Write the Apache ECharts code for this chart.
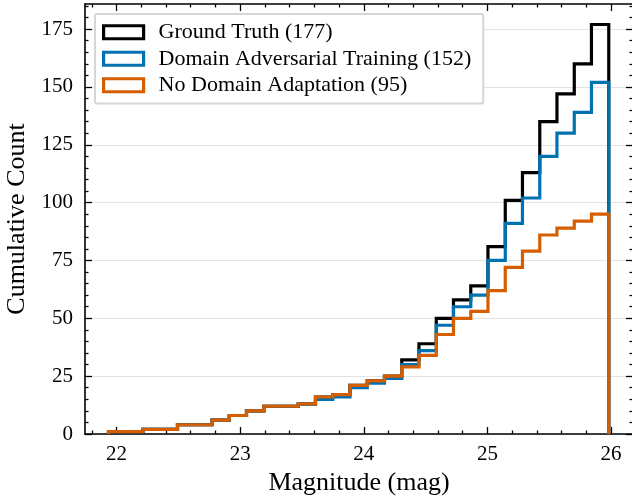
<!DOCTYPE html>
<html>
<head>
<meta charset="utf-8">
<script src="https://cdn.jsdelivr.net/npm/echarts@6/dist/echarts.min.js"></script>
<style>
  html, body { margin: 0; padding: 0; background: #ffffff; }
  #chart { width: 632px; height: 498px; }
</style>
</head>
<body>
<div id="chart"></div>
<script>
// Magnitude bin edges of the cumulative histograms (29 bins)
const binEdges = [21.935, 22.075, 22.214, 22.354, 22.493, 22.633, 22.772, 22.912, 23.051, 23.191,
                  23.330, 23.470, 23.609, 23.749, 23.888, 24.028, 24.167, 24.307, 24.446, 24.586,
                  24.725, 24.865, 25.004, 25.144, 25.283, 25.423, 25.562, 25.702, 25.841, 25.981];

// Cumulative counts per bin
const groundTruth       = [1, 1, 2, 2, 4, 4, 6, 8, 10, 12, 12, 13, 16, 17, 21, 23, 25, 32, 39, 50, 58, 64, 81, 101, 113, 135, 147, 160, 177];
const domainAdversarial = [1, 1, 2, 2, 4, 4, 6, 8, 10, 12, 12, 13, 15, 16, 20, 22, 24, 30, 36, 47, 55, 60, 75, 91, 102, 120, 130, 139, 152];
const noAdaptation      = [1, 1, 2, 2, 4, 4, 6, 8, 10, 12, 12, 13, 16, 17, 21, 23, 25, 29, 34, 43, 50, 53, 62, 72, 79, 86, 89, 92, 95];

const seriesNames = ['Ground Truth (177)', 'Domain Adversarial Training (152)', 'No Domain Adaptation (95)'];
const seriesColors = ['#000000', '#0072B2', '#D55E00'];

// Tick positions
const xMajorTicks = [22, 23, 24, 25, 26];
const xMinorTicks = [21.8, 22.2, 22.4, 22.6, 22.8, 23.2, 23.4, 23.6, 23.8, 24.2, 24.4, 24.6, 24.8,
                     25.2, 25.4, 25.6, 25.8];
const yMajorTicks = [0, 25, 50, 75, 100, 125, 150, 175];
const yMinorTicks = [5, 10, 15, 20, 30, 35, 40, 45, 55, 60, 65, 70, 80, 85, 90, 95, 105, 110, 115, 120,
                     130, 135, 140, 145, 155, 160, 165, 170, 180, 185];

const X_MIN = 21.745, X_MAX = 26.177;
const Y_MIN = 0, Y_MAX = 185.85;

const FONT = 'Liberation Serif';

// Outline of a step histogram: up from zero at the first edge, across each bin, down at the last edge
function stepOutline(counts) {
  const pts = [[binEdges[0], 0]];
  counts.forEach((c, i) => {
    pts.push([binEdges[i], c]);
    pts.push([binEdges[i + 1], c]);
  });
  pts.push([binEdges[binEdges.length - 1], 0]);
  return pts;
}

const spine = { show: true, onZero: false, lineStyle: { color: '#000', width: 1.6 } };
const noSpine = { show: false, onZero: false };

function xAxis(position, ticks, len, withLine, withLabel) {
  return {
    type: 'value', position: position, min: X_MIN, max: X_MAX,
    axisLine: withLine ? spine : noSpine,
    axisTick: { show: true, inside: true, length: len, customValues: ticks,
                lineStyle: { color: '#000', width: 1.3 } },
    axisLabel: withLabel
      ? { show: true, customValues: ticks, margin: 10, color: '#000', fontFamily: FONT, fontSize: 21 }
      : { show: false },
    splitLine: { show: false },
    minorTick: { show: false }
  };
}

function yAxis(position, ticks, len, withLine, withLabel) {
  return {
    type: 'value', position: position, min: Y_MIN, max: Y_MAX,
    axisLine: withLine ? spine : noSpine,
    axisTick: { show: true, inside: true, length: len, customValues: ticks,
                lineStyle: { color: '#000', width: 1.3 } },
    axisLabel: withLabel
      ? { show: true, customValues: ticks, margin: 12, color: '#000', fontFamily: FONT, fontSize: 21 }
      : { show: false },
    splitLine: { show: false },
    minorTick: { show: false }
  };
}

const xAxes = [
  Object.assign(xAxis('bottom', xMajorTicks, 7, true, true), {
    name: 'Magnitude (mag)', nameLocation: 'middle', nameGap: 31,
    nameTextStyle: { color: '#000', fontFamily: FONT, fontSize: 26 }
  }),
  xAxis('bottom', xMinorTicks, 3.5, false, false),
  xAxis('top', xMajorTicks, 7, true, false),
  xAxis('top', xMinorTicks, 3.5, false, false)
];

// Horizontal grid lines come from the left axis' own 25-count interval
const yLeft = Object.assign(yAxis('left', yMajorTicks, 7, true, true), {
  interval: 25,
  splitLine: { show: true, lineStyle: { color: '#e3e3e3', width: 1 } },
  name: 'Cumulative Count', nameLocation: 'middle', nameGap: 55,
  nameTextStyle: { color: '#000', fontFamily: FONT, fontSize: 26 }
});
const yAxes = [
  yLeft,
  yAxis('left', yMinorTicks, 3.5, false, false),
  yAxis('right', yMajorTicks, 7, true, false),
  yAxis('right', yMinorTicks, 3.5, false, false)
];

const countSeries = [groundTruth, domainAdversarial, noAdaptation];

const chart = echarts.init(document.getElementById('chart'), null, { renderer: 'canvas' });
chart.setOption({
  animation: false,
  backgroundColor: '#ffffff',
  grid: { left: 85, top: 4, width: 548, height: 430, containLabel: false, outerBoundsMode: 'none' },
  xAxis: xAxes,
  yAxis: yAxes,
  legend: {
    orient: 'vertical', left: 95, top: 14,
    data: seriesNames.map((n, i) => ({
      name: n, icon: 'rect',
      itemStyle: { color: 'rgba(0,0,0,0)', borderColor: seriesColors[i], borderWidth: 3.2 }
    })),
    itemWidth: 40, itemHeight: 13, itemGap: 0,
    textStyle: { color: '#000', fontFamily: FONT, fontSize: 22, lineHeight: 26.5, padding: [0, 0, 0, 10] },
    backgroundColor: '#ffffff', borderColor: '#d6d6d6', borderWidth: 2, borderRadius: 2,
    padding: [5, 12, 5, 7],
    selectedMode: false
  },
  series: countSeries.map((counts, i) => ({
    name: seriesNames[i], type: 'line',
    xAxisIndex: 0, yAxisIndex: 0,
    data: stepOutline(counts),
    showSymbol: false, symbol: 'none', silent: true,
    itemStyle: { color: seriesColors[i] },
    lineStyle: { color: seriesColors[i], width: 3.2, join: 'miter', cap: 'butt' },
    z: 3 + i
  }))
});
</script>
</body>
</html>
